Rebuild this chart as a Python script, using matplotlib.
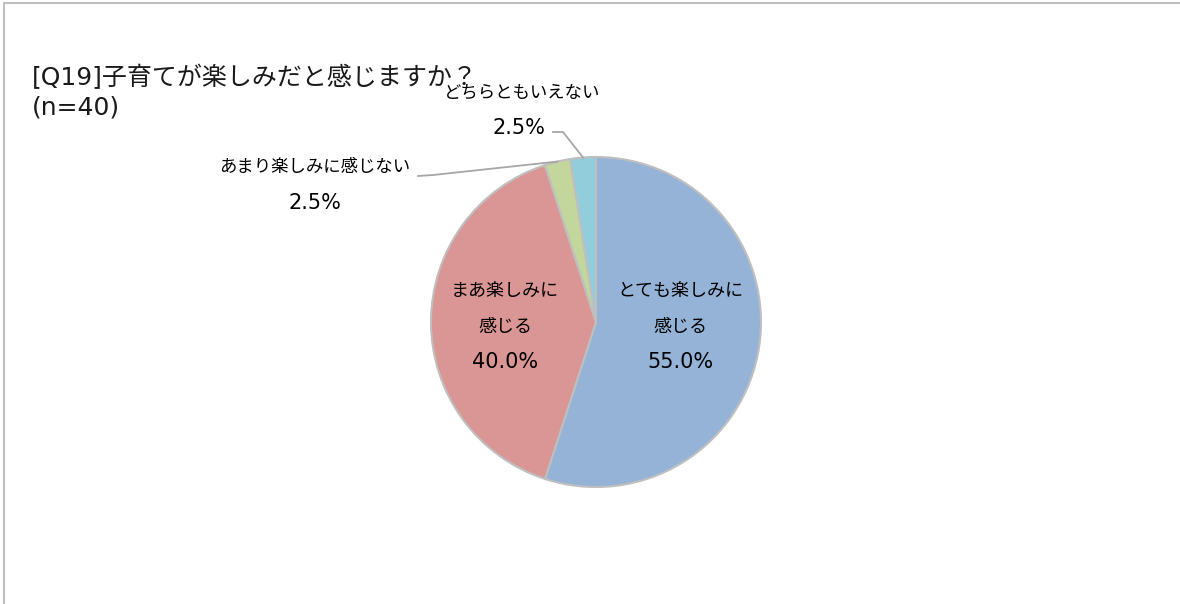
import numpy as np
import matplotlib.pyplot as plt

plt.rcParams['font.family'] = ['DejaVu Sans', 'Noto Sans CJK JP']

# データ
labels = ['とても楽しみに\n感じる', 'まあ楽しみに\n感じる', 'あまり楽しみに感じない', 'どちらともいえない']
values = [55.0, 40.0, 2.5, 2.5]
colors = ['#95B3D7', '#D99694', '#C3D69B', '#92CDDC']
title = '[Q19]子育てが楽しみだと感じますか？'
subtitle = '(n=40)'

W, H = 1180, 604
fig = plt.figure(figsize=(W / 100, H / 100), dpi=100)

# 枠線
fig.patches.append(plt.Rectangle((3.5 / W, -0.1), 1.2, 1 - 2.5 / H + 0.1, transform=fig.transFigure,
                                 fill=False, edgecolor='#BFBFBF', linewidth=1.5))

# 円グラフの位置 (中心 596,322 半径 165 px)
cx, cy, r = 596, 322, 165
ax = fig.add_axes([(cx - r) / W, 1 - (cy + r) / H, 2 * r / W, 2 * r / H])
wedges, _ = ax.pie(values, colors=colors, startangle=90, counterclock=False, radius=1,
                   wedgeprops=dict(edgecolor='#BFBFBF', linewidth=1.5))
ax.set_xlim(-1, 1)
ax.set_ylim(-1, 1)
ax.set_aspect('equal')
ax.axis('off')

fig.text(32 / W, 1 - 77 / H, title, fontsize=18, va='center', ha='left', color='#1a1a1a')
fig.text(32 / W, 1 - 107 / H, subtitle, fontsize=18, va='center', ha='left', color='#1a1a1a')

def px(x, y):
    return ((x - cx) / r, (cy - y) / r)

# 内側ラベル
inner_pos = [(680, 292), (505, 292)]
for i, (x, y) in enumerate(inner_pos):
    name = labels[i].split('\n')
    ax.text(*px(x, y), name[0], fontsize=13, ha='center', va='center')
    ax.text(*px(x, y + 35), name[1], fontsize=13, ha='center', va='center')
    ax.text(*px(x, y + 70), f'{values[i]:.1f}%', fontsize=15, ha='center', va='center')

# 外側ラベル
outer = {3: ((522, 93), (519, 128), [(553, 132), (563, 132)]),
         2: ((315, 167), (315, 203), [(418, 176), (433, 175)])}
for i, (name_xy, pct_xy, knee) in outer.items():
    ax.text(*px(*name_xy), labels[i], fontsize=12.5, ha='center', va='center')
    ax.text(*px(*pct_xy), f'{values[i]:.1f}%', fontsize=15, ha='center', va='center')
    w = wedges[i]
    ang = np.deg2rad((w.theta1 + w.theta2) / 2)
    pts = [px(*p) for p in knee] + [(np.cos(ang), np.sin(ang))]
    xs, ys = zip(*pts)
    ax.plot(xs, ys, color='#A6A6A6', linewidth=1.3, clip_on=False)

fig.savefig('out.png', dpi=100)
